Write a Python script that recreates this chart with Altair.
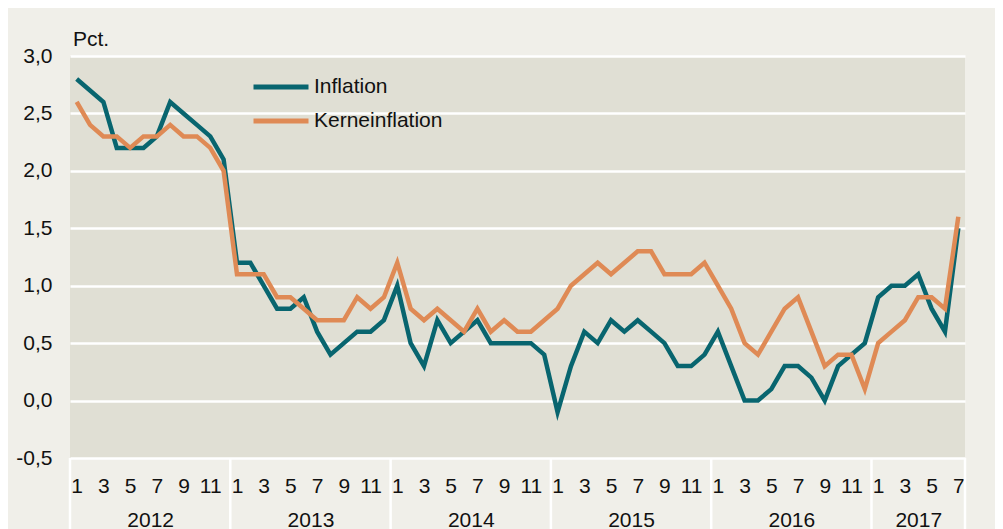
import altair as alt
import pandas as pd

# Monthly values, Jan 2012 - Jul 2017 (pct.)
inflation = [2.8, 2.7, 2.6, 2.2, 2.2, 2.2, 2.3, 2.6, 2.5, 2.4, 2.3, 2.1,
             1.2, 1.2, 1.0, 0.8, 0.8, 0.9, 0.6, 0.4, 0.5, 0.6, 0.6, 0.7,
             1.0, 0.5, 0.3, 0.7, 0.5, 0.6, 0.7, 0.5, 0.5, 0.5, 0.5, 0.4,
             -0.1, 0.3, 0.6, 0.5, 0.7, 0.6, 0.7, 0.6, 0.5, 0.3, 0.3, 0.4,
             0.6, 0.3, 0.0, 0.0, 0.1, 0.3, 0.3, 0.2, 0.0, 0.3, 0.4, 0.5,
             0.9, 1.0, 1.0, 1.1, 0.8, 0.6, 1.5]
kerneinflation = [2.6, 2.4, 2.3, 2.3, 2.2, 2.3, 2.3, 2.4, 2.3, 2.3, 2.2, 2.0,
                  1.1, 1.1, 1.1, 0.9, 0.9, 0.8, 0.7, 0.7, 0.7, 0.9, 0.8, 0.9,
                  1.2, 0.8, 0.7, 0.8, 0.7, 0.6, 0.8, 0.6, 0.7, 0.6, 0.6, 0.7,
                  0.8, 1.0, 1.1, 1.2, 1.1, 1.2, 1.3, 1.3, 1.1, 1.1, 1.1, 1.2,
                  1.0, 0.8, 0.5, 0.4, 0.6, 0.8, 0.9, 0.6, 0.3, 0.4, 0.4, 0.1,
                  0.5, 0.6, 0.7, 0.9, 0.9, 0.8, 1.6]
years = [2012, 2013, 2014, 2015, 2016, 2017]
months_per_year = [12, 12, 12, 12, 12, 7]
series_names = ["Inflation", "Kerneinflation"]
series_colors = ["#08656f", "#df8a55"]
y_ticks = [-0.5, 0.0, 0.5, 1.0, 1.5, 2.0, 2.5, 3.0]

n = len(inflation)
rows = []
for name, vals in zip(series_names, [inflation, kerneinflation]):
    for i, v in enumerate(vals):
        rows.append({"idx": i, "value": v, "serie": name})
df = pd.DataFrame(rows)

# year boundaries and centers (in month-index units)
bounds = [-0.5]
centers = []
start = 0
for m in months_per_year:
    centers.append(start + (m - 1) / 2)
    start += m
    bounds.append(start - 0.5)
df_sep = pd.DataFrame({"b": bounds})

W, H = 895, 402
FONT = "Liberation Sans"
FS = 21
xdom = [-0.5, n - 0.5]

lines = alt.Chart(df).mark_line(strokeWidth=4.5).encode(
    x=alt.X("idx:Q",
            scale=alt.Scale(domain=xdom, nice=False, zero=False),
            axis=alt.Axis(orient="bottom", values=list(range(0, n, 2)),
                          labelExpr="'' + ((datum.value % 12) + 1)",
                          title=None, grid=False, domain=False, ticks=False,
                          tickSize=0, labelPadding=17, labelFontSize=FS,
                          labelFlush=False, labelOverlap=False,
                          labelColor="#111111", labelFont=FONT)),
    y=alt.Y("value:Q",
            scale=alt.Scale(domain=[-0.5, 3.0], nice=False, zero=False),
            axis=alt.Axis(values=y_ticks,
                          labelExpr="(datum.value < 0 ? '-' : '') + replace(format(abs(datum.value), '.1f'), '.', ',')",
                          title="Pct.", titleAngle=0, titleX=2.5, titleY=-11,
                          titleAlign="left", titleBaseline="alphabetic",
                          titleFontSize=FS, titleFontWeight="normal",
                          titleColor="#111111", titleFont=FONT,
                          grid=True, gridColor="white", gridWidth=2.5,
                          domain=False, ticks=False, tickSize=0,
                          labelPadding=18, labelFontSize=FS,
                          labelColor="#111111", labelFont=FONT)),
    color=alt.Color("serie:N",
                    scale=alt.Scale(domain=series_names, range=series_colors),
                    legend=alt.Legend(orient="none", legendX=181, legendY=14,
                                      title=None, symbolType="stroke",
                                      symbolSize=3025, symbolStrokeWidth=5,
                                      labelFontSize=FS, labelFont=FONT,
                                      labelColor="#111111", labelOffset=3,
                                      clipHeight=34, rowPadding=0)),
)

seps = alt.Chart(df_sep).mark_rule(color="white", strokeWidth=2.5).encode(
    x=alt.X("b:Q",
            scale=alt.Scale(domain=xdom, nice=False, zero=False),
            axis=alt.Axis(orient="bottom", values=centers,
                          labelExpr="'' + (2012 + floor((datum.value + 0.5) / 12))",
                          title=None, grid=False, domain=False, ticks=False,
                          tickSize=0, labelPadding=51, labelFontSize=FS,
                          labelFlush=False, labelOverlap=False,
                          labelColor="#111111", labelFont=FONT)),
    y=alt.value(H),
    y2=alt.value(H + 80),
)

chart = alt.layer(lines, seps).resolve_scale(x="independent").properties(
    width=W, height=H,
    autosize=alt.AutoSizeParams(type="none"),
    padding={"left": 62, "top": 48, "right": 30, "bottom": 71},
    background="#f0efe9",
).configure_view(fill="#e0dfd4", strokeWidth=0)

chart.save("out.html", embed_options={"renderer": "svg", "actions": False})
